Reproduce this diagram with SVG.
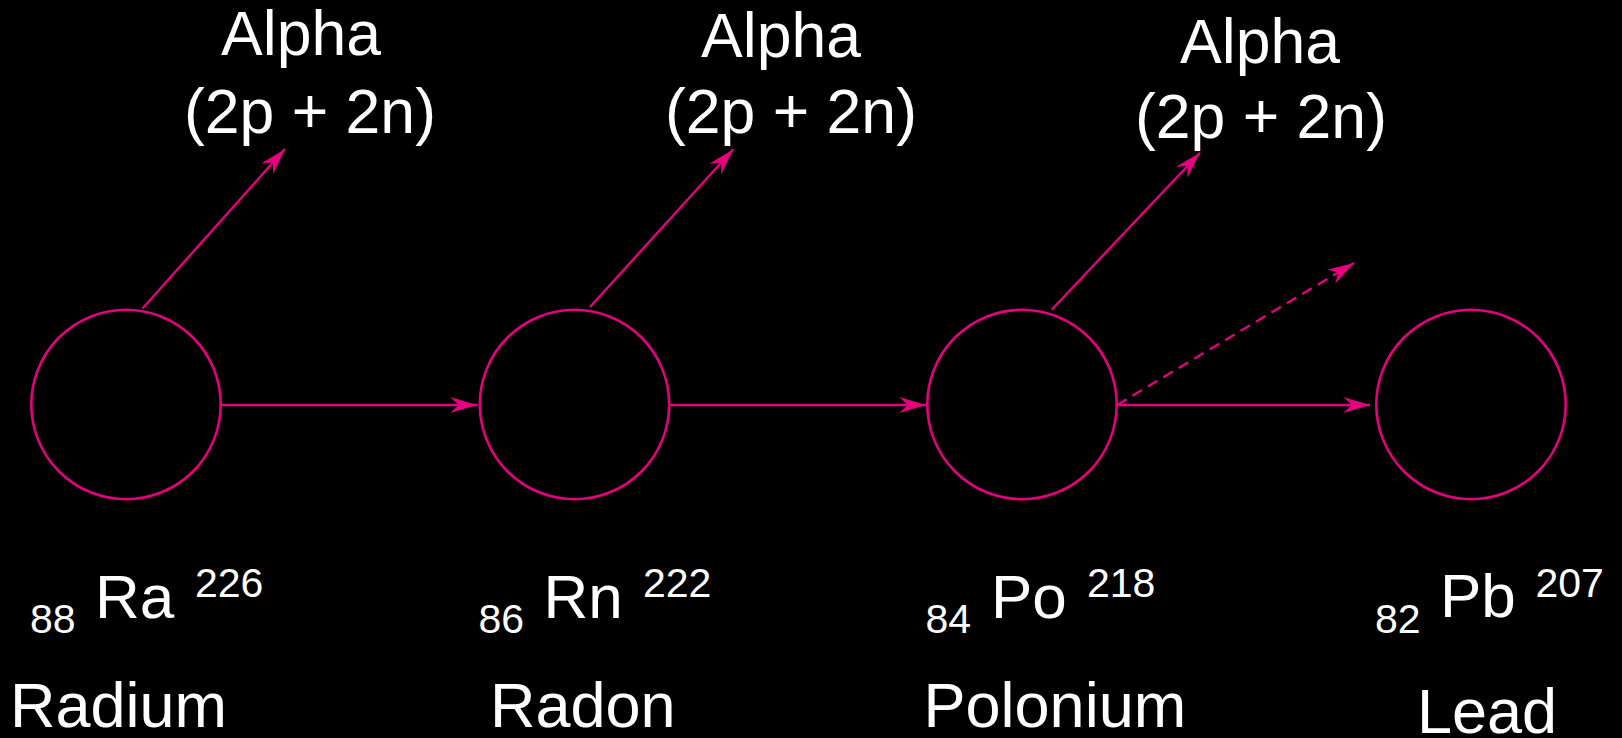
<svg xmlns="http://www.w3.org/2000/svg" width="1622" height="738" viewBox="0 0 1622 738">
<style>
.bg{fill:#000}
.nuc{fill:none;stroke:#E4007E;stroke-width:2.6}
.ln{fill:none;stroke:#E4007E;stroke-width:2.4}
.dash{stroke-dasharray:11 7}
text{font-family:"Liberation Sans",Arial,sans-serif;fill:#fff}
.big{font-size:62px}
.name{font-size:63px}
.small{font-size:41px}
.lab{font-size:62.5px;text-anchor:middle}
</style>
<defs>
<marker id="ah" markerUnits="userSpaceOnUse" markerWidth="30" markerHeight="20" viewBox="-26 -9 28 18" refX="0" refY="0" orient="auto">
<path d="M0,0 L-25,-7.5 L-17,0 L-25,7.5 Z" fill="#E4007E"/>
</marker>
</defs>
<rect class="bg" x="0" y="0" width="1622" height="738"/>
<g id="connectors">
<line class="ln" x1="221" y1="405" x2="477" y2="405" marker-end="url(#ah)"/>
<line class="ln" x1="670" y1="405" x2="926" y2="405" marker-end="url(#ah)"/>
<line class="ln" x1="1117" y1="405" x2="1370" y2="405" marker-end="url(#ah)"/>
<line class="ln dash" x1="1117" y1="405" x2="1354" y2="263" marker-end="url(#ah)"/>
<line class="ln" x1="142.7" y1="308.3" x2="285" y2="149" marker-end="url(#ah)"/>
<line class="ln" x1="590" y1="307" x2="733.3" y2="149.3" marker-end="url(#ah)"/>
<line class="ln" x1="1051.7" y1="309.7" x2="1200" y2="152.7" marker-end="url(#ah)"/>
</g>
<g id="alpha1">
<text class="lab" x="301" y="55">Alpha</text>
<text class="lab" x="310" y="133">(2p + 2n)</text>
</g>
<g id="alpha2">
<text class="lab" x="781" y="57">Alpha</text>
<text class="lab" x="791" y="133.3">(2p + 2n)</text>
</g>
<g id="alpha3">
<text class="lab" x="1260" y="62.7">Alpha</text>
<text class="lab" x="1261" y="138.3">(2p + 2n)</text>
</g>
<g id="radium">
<circle class="nuc" cx="126" cy="404.5" r="94.7"/>
<text class="small" x="30" y="632.7">88</text>
<text class="big" x="95" y="617.7">Ra</text>
<text class="small" x="195" y="596.7">226</text>
<text class="name" x="10" y="726.7">Radium</text>
</g>
<g id="radon">
<circle class="nuc" cx="574.5" cy="404.5" r="94.7"/>
<text class="small" x="478.5" y="632.7">86</text>
<text class="big" x="543.5" y="617.7">Rn</text>
<text class="small" x="643" y="596.7">222</text>
<text class="name" x="490" y="726.7">Radon</text>
</g>
<g id="polonium">
<circle class="nuc" cx="1022" cy="404.5" r="94.7"/>
<text class="small" x="925.5" y="632.7">84</text>
<text class="big" x="991" y="617.7">Po</text>
<text class="small" x="1087" y="596.7">218</text>
<text class="name" x="923.5" y="726.7">Polonium</text>
</g>
<g id="lead">
<circle class="nuc" cx="1471" cy="404.5" r="94.7"/>
<text class="small" x="1375" y="632.7">82</text>
<text class="big" x="1440" y="616.7">Pb</text>
<text class="small" x="1535.5" y="596.7">207</text>
<text class="name" x="1417" y="733">Lead</text>
</g>
</svg>
